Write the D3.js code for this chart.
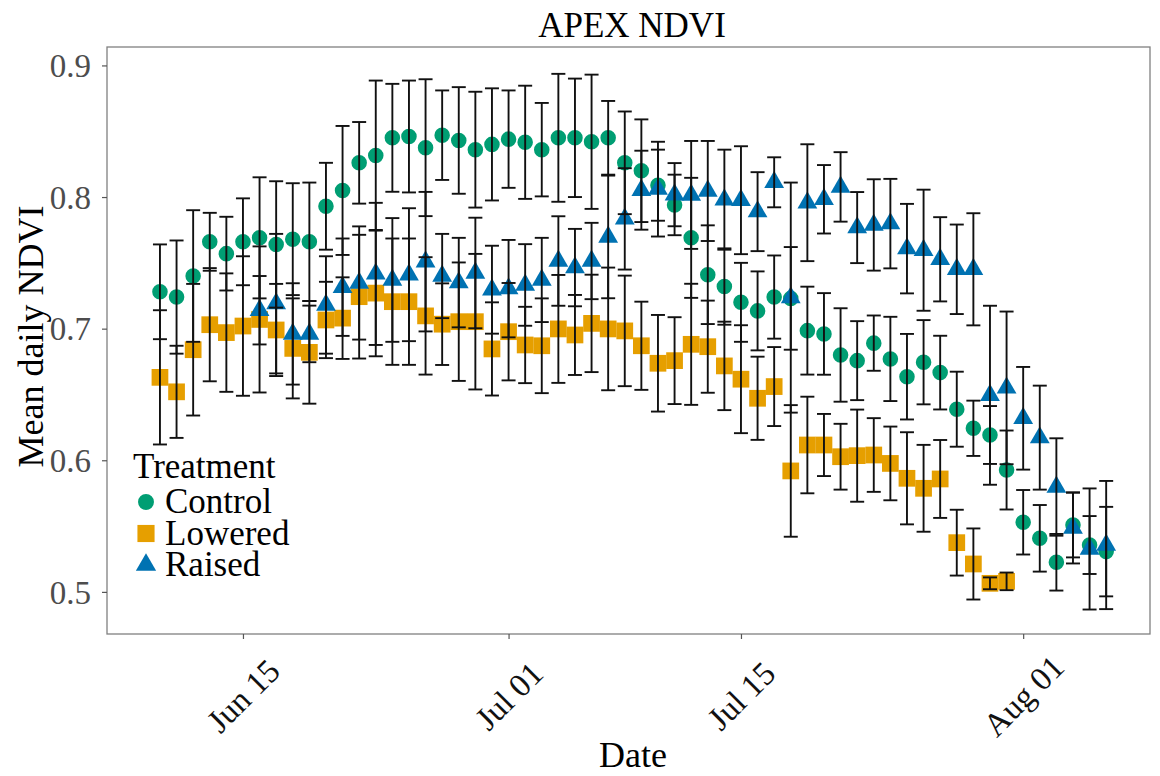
<!DOCTYPE html>
<html>
<head>
<meta charset="utf-8">
<script src="https://cdn.jsdelivr.net/npm/d3@7"></script>
<style>
  body { margin: 0; background: #ffffff; }
  svg { display: block; }
  text { font-family: "Liberation Serif", "Times New Roman", serif; }
</style>
</head>
<body>
<svg id="chart" width="1160" height="776"></svg>
<script>
// ---- Data: mean daily NDVI and error half-widths per treatment ----
const treatments = ["Control", "Lowered", "Raised"];
const seriesStart = { Control: "2019-06-10", Lowered: "2019-06-10", Raised: "2019-06-16" };

const controlMean = [0.728, 0.724, 0.740, 0.766, 0.757, 0.766, 0.769, 0.764, 0.768, 0.766,
  0.793, 0.805, 0.826, 0.8315, 0.845, 0.846, 0.8375, 0.847, 0.843, 0.836,
  0.840, 0.844, 0.8416, 0.836, 0.845, 0.845, 0.842, 0.845, 0.826, 0.820,
  0.809, 0.794, 0.769, 0.741, 0.732, 0.720, 0.7135, 0.724, 0.723, 0.6985,
  0.696, 0.680, 0.6757, 0.689, 0.677, 0.6635, 0.6745, 0.6666, 0.6388, 0.6243,
  0.6192, 0.5926, 0.5529, 0.5407, 0.5225, 0.5508, 0.5356, 0.5306];
const controlErr = [0.036, 0.043, 0.050, 0.022, 0.028, 0.033, 0.046, 0.048, 0.0425, 0.045,
  0.033, 0.049, 0.031, 0.057, 0.041, 0.0425, 0.052, 0.034, 0.0405, 0.044,
  0.0426, 0.037, 0.043, 0.0355, 0.0486, 0.045, 0.051, 0.028, 0.039, 0.039,
  0.027, 0.023, 0.0456, 0.0375, 0.029, 0.030, 0.030, 0.0316, 0.039, 0.0334,
  0.031, 0.0355, 0.030, 0.021, 0.032, 0.0325, 0.032, 0.028, 0.0285, 0.021,
  0.022, 0.030, 0.0245, 0.0253, 0.0215, 0.0246, 0.022, 0.034];

const loweredMean = [0.663, 0.652, 0.684, 0.703, 0.697, 0.702, 0.707, 0.699, 0.685, 0.682,
  0.7066, 0.708, 0.7243, 0.727, 0.7205, 0.7205, 0.7097, 0.7034, 0.7053, 0.7053,
  0.6846, 0.6977, 0.6876, 0.687, 0.6998, 0.6952, 0.704, 0.6998, 0.6983, 0.687,
  0.6737, 0.6757, 0.6881, 0.6863, 0.6717, 0.6616, 0.6471, 0.656, 0.5919, 0.6116,
  0.6116, 0.6027, 0.6035, 0.604, 0.5976, 0.5863, 0.5787, 0.5858, 0.5374, 0.5212,
  0.5065, 0.508];
const loweredErr = [0.051, 0.035, 0.050, 0.043, 0.045, 0.053, 0.0555, 0.035, 0.038, 0.039,
  0.029, 0.031, 0.047, 0.048, 0.048, 0.048, 0.0446, 0.031, 0.045, 0.0515,
  0.0354, 0.037, 0.029, 0.036, 0.041, 0.0304, 0.037, 0.0466, 0.042, 0.0335,
  0.0367, 0.033, 0.046, 0.035, 0.0336, 0.041, 0.0316, 0.030, 0.050, 0.0367,
  0.0236, 0.025, 0.035, 0.028, 0.028, 0.035, 0.033, 0.0296, 0.025, 0.027,
  0.0045, 0.0067];

const raisedMean = [0.714, 0.719, 0.696, 0.696, 0.718, 0.7315, 0.7347, 0.7416, 0.737, 0.741,
  0.7509, 0.740, 0.735, 0.7423, 0.7296, 0.7304, 0.7332, 0.737, 0.7514, 0.7464,
  0.7514, 0.7697, 0.7834, 0.8052, 0.806, 0.8018, 0.8016, 0.8046, 0.798, 0.7976,
  0.7889, 0.8112, 0.7236, 0.7957, 0.7983, 0.8077, 0.7768, 0.7788, 0.7798, 0.7608,
  0.7596, 0.7527, 0.7451, 0.7451, 0.6494, 0.655, 0.6319, 0.6172, 0.5797, 0.5486,
  0.5326, 0.5356];
const raisedErr = [0.026, 0.053, 0.0385, 0.0215, 0.037, 0.037, 0.043, 0.054, 0.047, 0.0505,
  0.053, 0.032, 0.034, 0.042, 0.0334, 0.037, 0.031, 0.032, 0.034, 0.0294,
  0.029, 0.0466, 0.0385, 0.030, 0.036, 0.024, 0.041, 0.038, 0.038, 0.041,
  0.030, 0.019, 0.0874, 0.0444, 0.026, 0.0264, 0.027, 0.0347, 0.034, 0.034,
  0.046, 0.032, 0.034, 0.0426, 0.068, 0.058, 0.039, 0.0395, 0.037, 0.027,
  0.046, 0.0487];

const xTickDates = ["2019-06-15", "2019-07-01", "2019-07-15", "2019-08-01"];
const yTickValues = [0.5, 0.6, 0.7, 0.8, 0.9];

// ---- Build one row per observation (consecutive days from each series start) ----
const parseDay = d3.utcParse("%Y-%m-%d");
function buildRows(name, start, means, errs) {
  const days = d3.utcDay.range(parseDay(start), d3.utcDay.offset(parseDay(start), means.length));
  return means.map((m, i) => ({ treatment: name, date: days[i], mean: m, err: errs[i] }));
}
const rows = [
  ...buildRows("Control", seriesStart.Control, controlMean, controlErr),
  ...buildRows("Lowered", seriesStart.Lowered, loweredMean, loweredErr),
  ...buildRows("Raised", seriesStart.Raised, raisedMean, raisedErr)
];

// ---- Layout ----
const plot = { left: 107, right: 1150, top: 47, bottom: 634 };
const color = d3.scaleOrdinal().domain(treatments).range(["#009E73", "#E69F00", "#0072B2"]);
const shape = d3.scaleOrdinal().domain(treatments).range([d3.symbolCircle, d3.symbolSquare, d3.symbolTriangle]);
const shapeSize = d3.scaleOrdinal().domain(treatments).range([190, 280, 170]);

const dayMs = 864e5;
const ref = parseDay("2019-06-15").getTime();
const x = d3.scaleUtc()
  .domain([new Date(ref - 8.19 * dayMs), new Date(ref + 54.64 * dayMs)])
  .range([plot.left, plot.right]);
const y = d3.scaleLinear().domain([0.468, 0.914]).range([plot.bottom, plot.top]);

const svg = d3.select("#chart");

// Panel
svg.append("rect")
  .attr("x", plot.left).attr("y", plot.top)
  .attr("width", plot.right - plot.left).attr("height", plot.bottom - plot.top)
  .attr("fill", "#ffffff");

// Points: drawn per treatment so Raised sits on top
const pointsG = svg.append("g");
treatments.forEach(t => {
  pointsG.append("g").selectAll("path")
    .data(rows.filter(r => r.treatment === t))
    .join("path")
    .attr("transform", d => `translate(${x(d.date)},${y(d.mean)})`)
    .attr("d", d3.symbol().type(shape(t)).size(shapeSize(t)))
    .attr("fill", color(t));
});

// Error bars
const capHalf = 7;
const barsG = svg.append("g").attr("stroke", "#111").attr("stroke-width", 1.9).attr("fill", "none");
const bars = barsG.selectAll("g").data(rows).join("g");
bars.append("line")
  .attr("x1", d => x(d.date)).attr("x2", d => x(d.date))
  .attr("y1", d => y(d.mean + d.err)).attr("y2", d => y(d.mean - d.err));
bars.append("line")
  .attr("x1", d => x(d.date) - capHalf).attr("x2", d => x(d.date) + capHalf)
  .attr("y1", d => y(d.mean + d.err)).attr("y2", d => y(d.mean + d.err));
bars.append("line")
  .attr("x1", d => x(d.date) - capHalf).attr("x2", d => x(d.date) + capHalf)
  .attr("y1", d => y(d.mean - d.err)).attr("y2", d => y(d.mean - d.err));

// Panel border
svg.append("rect")
  .attr("x", plot.left).attr("y", plot.top)
  .attr("width", plot.right - plot.left).attr("height", plot.bottom - plot.top)
  .attr("fill", "none").attr("stroke", "#808080").attr("stroke-width", 1.3);

// Y axis
const yAxis = svg.append("g")
  .attr("transform", `translate(${plot.left},0)`)
  .call(d3.axisLeft(y).tickValues(yTickValues).tickFormat(d3.format(".1f")).tickSize(5).tickPadding(11));
yAxis.select(".domain").remove();
yAxis.selectAll(".tick line").attr("stroke", "#555").attr("stroke-width", 1.2);
yAxis.selectAll(".tick text")
  .attr("fill", "#4d4d4d").style("font-size", "33px").attr("dy", "0.34em");

// X axis
const xAxis = svg.append("g")
  .attr("transform", `translate(0,${plot.bottom})`)
  .call(d3.axisBottom(x).tickValues(xTickDates.map(parseDay)).tickFormat(d3.utcFormat("%b %d")).tickSize(5));
xAxis.select(".domain").remove();
xAxis.selectAll(".tick line").attr("stroke", "#555").attr("stroke-width", 1.2);
xAxis.selectAll(".tick text")
  .attr("y", 0).attr("dy", null)
  .attr("text-anchor", "middle")
  .attr("dominant-baseline", "central")
  .attr("transform", "translate(0,62) rotate(-45)")
  .attr("fill", "#111").style("font-size", "33px");

// Titles
svg.append("text").attr("x", 632).attr("y", 37).attr("text-anchor", "middle")
  .style("font-size", "35px").attr("fill", "#000").text("APEX NDVI");
svg.append("text").attr("x", 633).attr("y", 767).attr("text-anchor", "middle")
  .style("font-size", "36px").attr("fill", "#000").text("Date");
svg.append("text")
  .attr("transform", `translate(43,${(plot.top + plot.bottom) / 2 - 4}) rotate(-90)`)
  .attr("text-anchor", "middle")
  .style("font-size", "36px").attr("fill", "#000").text("Mean daily NDVI");

// Legend
const legend = svg.append("g").attr("transform", "translate(133,0)");
legend.append("text").attr("x", 0).attr("y", 478)
  .style("font-size", "35px").attr("fill", "#000").text("Treatment");
treatments.forEach((t, i) => {
  const cy = 502 + i * 31.5;
  legend.append("path")
    .attr("transform", `translate(13,${cy})`)
    .attr("d", d3.symbol().type(shape(t)).size(shapeSize(t) * 1.05))
    .attr("fill", color(t));
  legend.append("text").attr("x", 32).attr("y", cy + 11)
    .style("font-size", "35px").attr("fill", "#000").text(t);
});
</script>
</body>
</html>
